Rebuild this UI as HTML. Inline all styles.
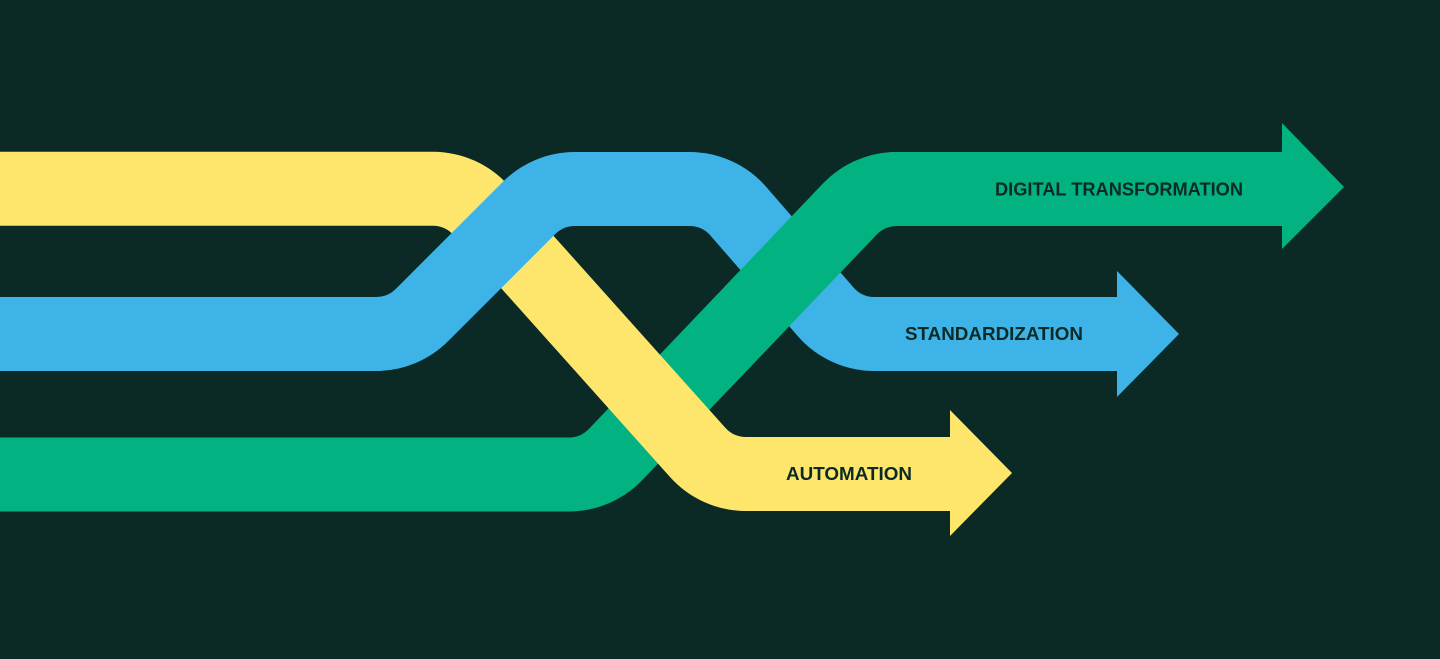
<!DOCTYPE html>
<html>
<head>
<meta charset="utf-8">
<style>
  html, body { margin: 0; padding: 0; background: #0b2a25; }
  body { width: 1440px; height: 659px; overflow: hidden; }
  svg { display: block; }
  text { font-family: "Liberation Sans", Arial, sans-serif; font-weight: bold; font-size: 18px; fill: #0b2a25; }
</style>
</head>
<body>
<svg width="1440" height="659" viewBox="0 0 1440 659" xmlns="http://www.w3.org/2000/svg">
  <defs>
    <clipPath id="gclip">
      <rect x="726" y="100" width="240" height="300"/>
    </clipPath>
  </defs>
  <rect x="0" y="0" width="1440" height="659" fill="#0b2a25"/>

  <!-- Green band (bottom layer) -->
  <g id="green">
    <path d="M -10 474.5 H 569.2 A 65 65 0 0 0 616.2 453.9 L 849.8 209.1 A 65 65 0 0 1 896.8 189 H 1284"
          fill="none" stroke="#03b281" stroke-width="74"/>
    <polygon points="1282,123 1344,187 1282,249" fill="#03b281"/>
  </g>

  <!-- Yellow band -->
  <g id="yellow">
    <path d="M -10 188.7 H 432.9 A 65 65 0 0 1 481.4 210.7 L 697.6 452.3 A 65 65 0 0 0 746.1 474 H 952"
          fill="none" stroke="#fee66d" stroke-width="74"/>
    <polygon points="950,410 1012,473 950,536" fill="#fee66d"/>
  </g>

  <!-- Blue band -->
  <g id="blue">
    <path d="M -10 334 H 376.1 A 65 65 0 0 0 422 315 L 529 208 A 65 65 0 0 1 574.9 189 H 689.4 A 65 65 0 0 1 738.4 211.3 L 825.6 311.7 A 65 65 0 0 0 874.6 334 H 1119"
          fill="none" stroke="#3db3e7" stroke-width="74"/>
    <polygon points="1117,271 1179,334 1117,397" fill="#3db3e7"/>
  </g>

  <!-- Green redrawn over blue at their crossing -->
  <g clip-path="url(#gclip)">
    <path d="M -10 474.5 H 569.2 A 65 65 0 0 0 616.2 453.9 L 849.8 209.1 A 65 65 0 0 1 896.8 189 H 1284"
          fill="none" stroke="#03b281" stroke-width="74"/>
  </g>

  <!-- Labels -->
  <text x="995" y="195.5" textLength="248" lengthAdjust="spacingAndGlyphs">DIGITAL TRANSFORMATION</text>
  <text x="905" y="340" textLength="178" lengthAdjust="spacingAndGlyphs">STANDARDIZATION</text>
  <text x="786" y="480" textLength="126" lengthAdjust="spacingAndGlyphs">AUTOMATION</text>
</svg>
</body>
</html>
